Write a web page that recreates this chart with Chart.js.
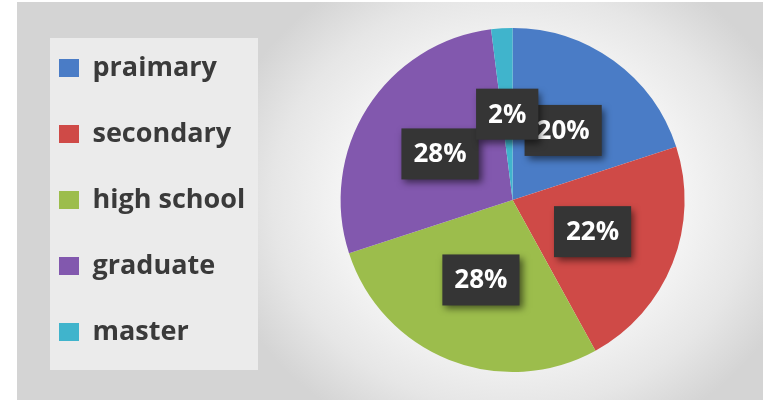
<!DOCTYPE html>
<html>
<head>
<meta charset="utf-8">
<script src="https://cdn.jsdelivr.net/npm/chart.js@4"></script>
<style>
  html, body { margin: 0; padding: 0; background: #fff; overflow: hidden; width: 765px; height: 405px; }
  #frame {
    position: absolute; left: 17px; top: 2px; width: 746px; height: 398px;
    background: radial-gradient(ellipse 300px 260px at 495px 198px, #ffffff 0%, #fbfbfb 45%, #e6e6e6 80%, #d4d4d4 100%);
    background-color: #d4d4d4;
  }
  #panel {
    position: absolute; left: 50px; top: 38px; width: 208px; height: 332px;
    background: #ebebeb;
  }
  #wrap { position: absolute; left: 0; top: 0; width: 790px; height: 405px; }
</style>
</head>
<body>
<div id="frame"></div>
<div id="panel"></div>
<div id="wrap"><canvas id="levelChart"></canvas></div>
<script>
const levels = ['praimary', 'secondary', 'high school', 'graduate', 'master'];
const shares = [20, 22, 28, 28, 2];
const colors = ['#4a7cc6', '#cf4a47', '#9cbd4c', '#8258ae', '#40b4cc'];

// dark boxes with the percentage on each slice
const sliceLabels = {
  id: 'sliceLabels',
  afterDatasetsDraw(chart) {
    const c = chart.ctx;
    const arcs = chart.getDatasetMeta(0).data;
    c.save();
    c.font = 'bold 26px "Open Sans"';
    c.textAlign = 'center';
    c.textBaseline = 'middle';
    arcs.forEach((arc, i) => {
      const p = arc.tooltipPosition();
      const text = shares[i] + '%';
      const w = c.measureText(text).width + 24;
      const h = 51;
      c.shadowColor = 'rgba(0,0,0,0.55)';
      c.shadowBlur = 7;
      c.shadowOffsetX = 3;
      c.shadowOffsetY = 4;
      c.fillStyle = '#353535';
      c.fillRect(p.x - w / 2, p.y - h / 2, w, h);
      c.shadowColor = 'transparent';
      c.fillStyle = '#ffffff';
      c.fillText(text, p.x, p.y + 1);
    });
    c.restore();
  }
};

new Chart(document.getElementById('levelChart'), {
  type: 'pie',
  data: {
    labels: levels,
    datasets: [{
      data: shares,
      backgroundColor: colors,
      borderWidth: 0,
      radius: 172
    }]
  },
  options: {
    responsive: true,
    maintainAspectRatio: false,
    animation: false,
    layout: { padding: { left: 20, right: 20, top: 0, bottom: 5 } },
    plugins: {
      legend: {
        position: 'left',
        labels: {
          boxWidth: 20,
          boxHeight: 18,
          padding: 39,
          color: '#3a3a3a',
          font: { family: '"Open Sans"', size: 27, weight: 'bold' }
        }
      },
      tooltip: { enabled: false }
    }
  },
  plugins: [sliceLabels]
});
</script>
</body>
</html>
